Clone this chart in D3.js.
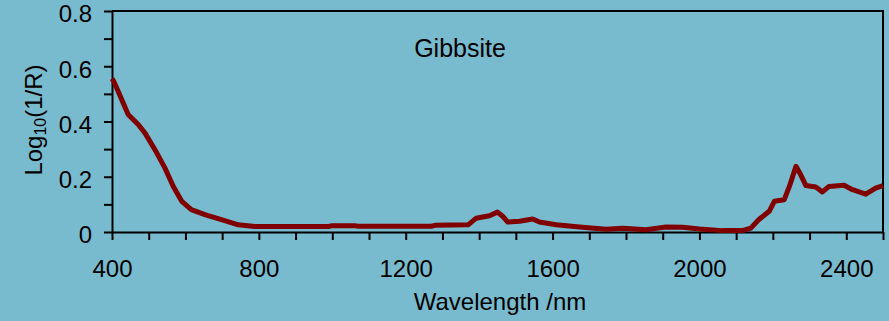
<!DOCTYPE html>
<html>
<head>
<meta charset="utf-8">
<script src="https://cdn.jsdelivr.net/npm/d3@7"></script>
<style>
    html, body { margin: 0; padding: 0; background: #78bbce; }
    svg { display: block; font-family: "Liberation Sans", Arial, sans-serif; }
</style>
</head>
<body>
<div id="chart"></div>
<script>
// Spectrum values
const wavelengths = [400, 405, 417, 444, 472, 490, 517, 544, 567, 590, 616, 653, 698, 744, 789, 850, 990, 1000, 1060, 1070, 1270, 1280, 1370, 1392, 1428, 1450, 1464, 1478, 1510, 1546, 1564, 1610, 1673, 1746, 1791, 1855, 1909, 1954, 2000, 2063, 2117, 2140, 2162, 2190, 2204, 2231, 2245, 2263, 2276, 2290, 2317, 2335, 2353, 2394, 2417, 2453, 2480, 2500];
const absorbance = [0.555, 0.545, 0.509, 0.425, 0.388, 0.358, 0.298, 0.232, 0.165, 0.111, 0.081, 0.063, 0.045, 0.026, 0.02, 0.02, 0.02, 0.023, 0.023, 0.021, 0.021, 0.024, 0.026, 0.05, 0.059, 0.072, 0.057, 0.036, 0.039, 0.047, 0.036, 0.026, 0.018, 0.01, 0.014, 0.008, 0.018, 0.017, 0.011, 0.005, 0.005, 0.014, 0.045, 0.075, 0.111, 0.117, 0.165, 0.238, 0.207, 0.168, 0.163, 0.145, 0.165, 0.169, 0.153, 0.137, 0.159, 0.168];

const xTickValues = d3.range(400, 2501, 100);
const xTickLabels = [400, 800, 1200, 1600, 2000, 2400];
const yTickValues = d3.range(0, 0.81, 0.1);
const yTickLabels = ['0', '0.2', '0.4', '0.6', '0.8'];

const width = 889, height = 321;
const plot = { left: 112, right: 883, top: 11, bottom: 232 };

const svg = d3.select('#chart').append('svg')
    .attr('width', width)
    .attr('height', height);

const x = d3.scaleLinear().domain([400, 2500]).range([plot.left, plot.right]);
const y = d3.scaleLinear().domain([0, 0.8]).range([plot.bottom, plot.top]);

// x axis
const xAxis = svg.append('g')
    .attr('transform', `translate(0,${plot.bottom})`)
    .call(d3.axisBottom(x)
        .tickValues(xTickValues)
        .tickSize(8)
        .tickSizeOuter(0)
        .tickPadding(20)
        .tickFormat(d => xTickLabels.includes(Math.round(d)) ? d : ''));

// y axis
const yAxis = svg.append('g')
    .attr('transform', `translate(${plot.left},0)`)
    .call(d3.axisLeft(y)
        .tickValues(yTickValues)
        .tickSize(8)
        .tickSizeOuter(0)
        .tickPadding(12)
        .tickFormat((d, i) => i % 2 === 0 ? yTickLabels[i / 2] : ''));

[xAxis, yAxis].forEach(g => {
    g.selectAll('path.domain').attr('stroke', '#000').attr('stroke-width', 2);
    g.selectAll('.tick line').attr('stroke', '#000').attr('stroke-width', 2);
    g.selectAll('.tick text')
        .attr('fill', '#000')
        .style('font-size', '24px')
        .style('font-family', '"Liberation Sans", Arial, sans-serif');
});
yAxis.selectAll('.tick text').attr('dy', '0.45em');

// frame (top + right)
svg.append('path')
    .attr('d', `M${plot.left},${plot.top}H${plot.right}V${plot.bottom}`)
    .attr('fill', 'none')
    .attr('stroke', '#000')
    .attr('stroke-width', 2);

// spectrum
const line = d3.line()
    .x((d, i) => x(wavelengths[i]))
    .y(d => y(d));

svg.append('path')
    .datum(absorbance)
    .attr('d', line)
    .attr('fill', 'none')
    .attr('stroke', '#800000')
    .attr('stroke-width', 5)
    .attr('stroke-linejoin', 'round');

// labels
svg.append('text')
    .attr('x', 460)
    .attr('y', 57)
    .attr('text-anchor', 'middle')
    .style('font-size', '25px')
    .text('Gibbsite');

svg.append('text')
    .attr('x', 500)
    .attr('y', 310)
    .attr('text-anchor', 'middle')
    .style('font-size', '24px')
    .text('Wavelength /nm');

const yLabel = svg.append('text')
    .attr('transform', 'translate(42,120) rotate(-90)')
    .attr('text-anchor', 'middle')
    .style('font-size', '24px');
yLabel.append('tspan').text('Log');
yLabel.append('tspan').attr('dy', 4).style('font-size', '16px').text('10');
yLabel.append('tspan').attr('dy', -4).text('(1/R)');
</script>
</body>
</html>
